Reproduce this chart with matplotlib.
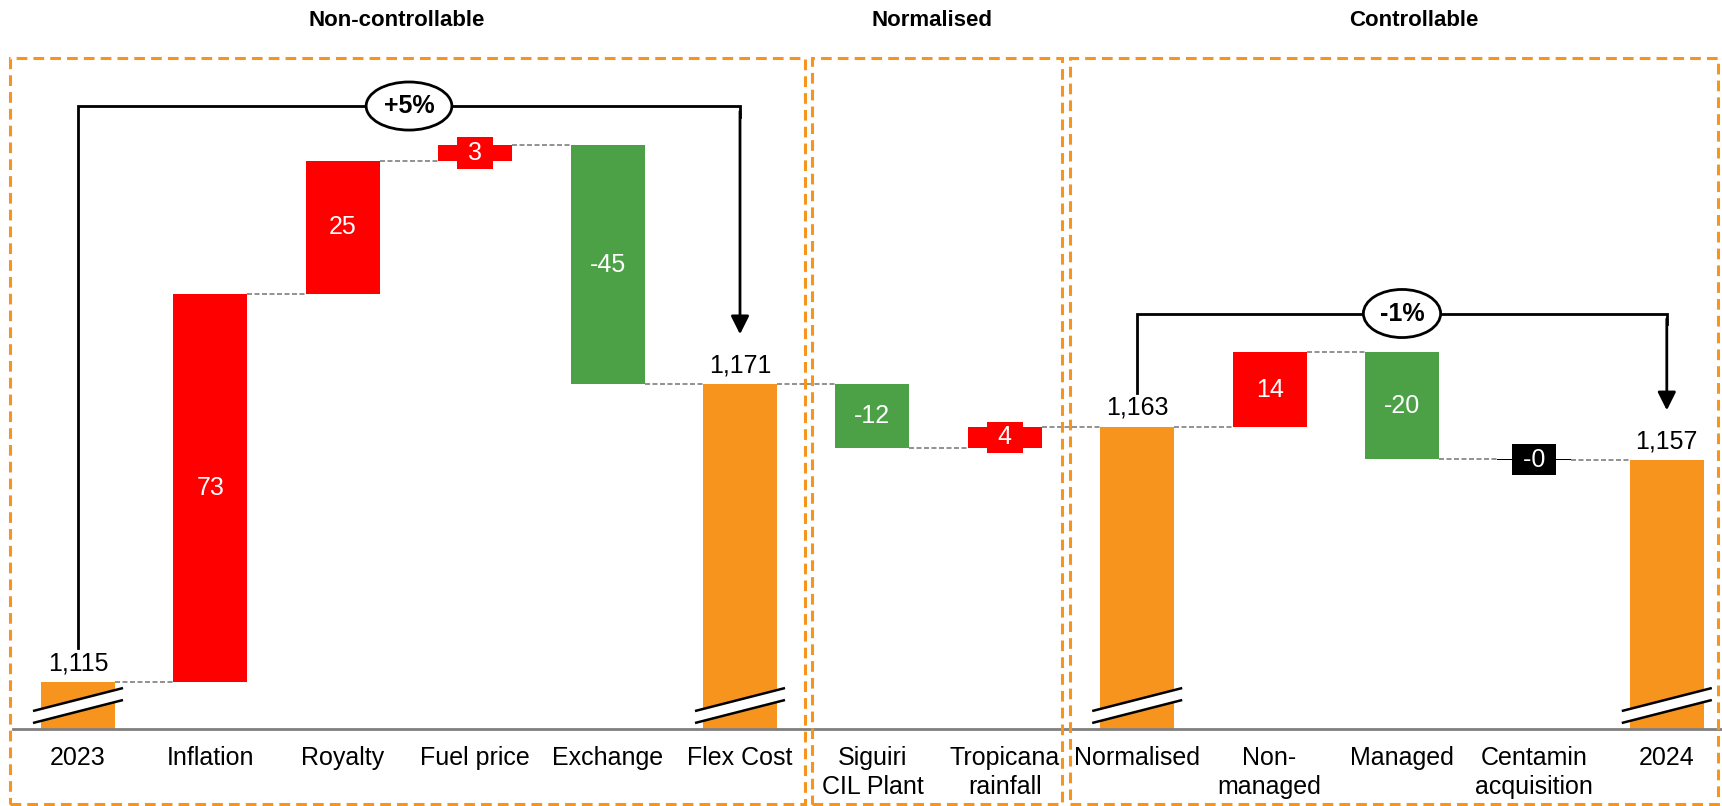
import matplotlib
matplotlib.use('Agg')
import matplotlib.pyplot as plt
from matplotlib.patches import Rectangle, Polygon
import numpy as np

plt.rcParams['font.family'] = ['Liberation Sans', 'DejaVu Sans']

# Cost bridge 2023 -> 2024
categories = ['2023', 'Inflation', 'Royalty', 'Fuel price', 'Exchange', 'Flex Cost',
              'Siguiri\nCIL Plant', 'Tropicana\nrainfall',
              'Normalised', 'Non-\nmanaged', 'Managed', 'Centamin\nacquisition', '2024']
start_value = 1115
# None = subtotal bar (running total)
changes = [73, 25, 3, -45, None, -12, 4, None, 14, -20, -0.3, None]

sections = ['Non-controllable', 'Normalised', 'Controllable']

ORANGE = '#F7941D'
RED = '#FF0000'
GREEN = '#4CA147'
GREY = '#7F7F7F'

W, H = 1722, 806
fig = plt.figure(figsize=(W / 100, H / 100), dpi=100)
ax = fig.add_axes([0, 77 / H, 1, 729 / H])

y_floor = 1106.2
px_per_unit = 5.32
ax.set_ylim(y_floor, y_floor + 729 / px_per_unit)
ax.set_xlim(-78 / 132.4, (W - 78) / 132.4)

x = np.arange(len(categories))
bw = 0.56

# work out bar extents
bottoms, tops, kinds, vals = [], [], [], []
running = start_value
bottoms.append(y_floor); tops.append(running); kinds.append('total'); vals.append(running)
for c in changes:
    if c is None:
        bottoms.append(y_floor); tops.append(running); kinds.append('total'); vals.append(running)
    else:
        lo, hi = sorted([running, running + c])
        bottoms.append(lo); tops.append(hi); kinds.append('delta'); vals.append(c)
        running += c
levels = []
running = start_value
levels.append(running)
for c in changes:
    if c is not None:
        running += c
    levels.append(running)

for i in range(len(categories)):
    if kinds[i] == 'total':
        col = ORANGE
    elif abs(vals[i]) < 1:
        col = 'black'
    else:
        col = RED if vals[i] > 0 else GREEN
    ax.bar(x[i], tops[i] - bottoms[i], bottom=bottoms[i], width=bw, color=col, zorder=2)

    if kinds[i] == 'total':
        ax.annotate(f'{round(vals[i]):,}', (x[i], tops[i]), xytext=(0, 5),
                    textcoords='offset points', ha='center', va='bottom', fontsize=18)
    else:
        mid = (tops[i] + bottoms[i]) / 2
        if abs(vals[i]) < 5:
            ax.text(x[i], mid, f' {vals[i]:.0f} ', ha='center', va='center', fontsize=18,
                    color='white', zorder=4,
                    bbox=dict(boxstyle='square,pad=0.15', fc=col, ec='none'))
        else:
            ax.text(x[i], mid, f'{vals[i]:.0f}', ha='center', va='center', fontsize=18,
                    color='white', zorder=4)

# connectors between bars
for i in range(len(categories) - 1):
    ax.plot([x[i] + bw / 2, x[i + 1] - bw / 2], [levels[i], levels[i]],
            color=GREY, lw=1.2, ls=(0, (3, 1.5)), zorder=1)

# axis break marks on the totals
for i in range(len(categories)):
    if kinds[i] != 'total':
        continue
    x0, x1 = x[i] - 0.34, x[i] + 0.34
    lo = (y_floor + 1.13, y_floor + 5.45)
    hi = (y_floor + 3.38, y_floor + 7.7)
    ax.add_patch(Polygon([(x0, lo[0]), (x1, lo[1]), (x1, hi[1]), (x0, hi[0])],
                         closed=True, fc='white', ec='none', zorder=3))
    for a, b in (lo, hi):
        ax.plot([x0, x1], [a, b], color='black', lw=1.8, zorder=3, solid_capstyle='butt')

# baseline
ax.axhline(y_floor, xmin=13 / W, color=GREY, lw=2, zorder=5, clip_on=False)


def bracket(i0, i1, text):
    top = max(levels[i0:i1 + 1]) + 7.3
    ax.plot([x[i0], x[i0], x[i1], x[i1]], [tops[i0] + 6.4, top, top, top - 2],
            color='black', lw=2, zorder=3, solid_joinstyle='miter')
    ax.annotate('', xy=(x[i1], tops[i1] + 9.4), xytext=(x[i1], top - 1),
                arrowprops=dict(arrowstyle='-|>,head_length=1.1,head_width=0.55',
                                color='black', lw=2, shrinkA=0, shrinkB=0), zorder=3)
    ax.text((x[i0] + x[i1]) / 2, top, text, ha='center', va='center', fontsize=18,
            fontweight='bold', zorder=4,
            bbox=dict(boxstyle='ellipse,pad=0.2', fc='white', ec='black', lw=2))


pct1 = (levels[5] / levels[0] - 1) * 100
pct2 = (levels[12] / levels[8] - 1) * 100
bracket(0, 5, f'{pct1:+.0f}%')
bracket(8, 12, f'{pct2:+.0f}%')

ax.set_xticks(x, categories)
ax.tick_params(axis='x', length=0, pad=12, labelsize=18)
for lab in ax.get_xticklabels():
    lab.set_linespacing(1.3)
ax.set_yticks([])
for s in ax.spines.values():
    s.set_visible(False)

# section frames and titles
frames = [(10, 805), (812, 1062), (1070, 1718)]
title_x = [397, 932, 1414]
for (l, r), name, tx in zip(frames, sections, title_x):
    fig.add_artist(Rectangle((l / W, (H - 803.5) / H), (r - l) / W, (803.5 - 58) / H,
                             transform=fig.transFigure, fill=False, ec=ORANGE,
                             lw=2.2, ls=(0, (3.5, 2)), zorder=10))
    fig.text(tx / W, 1 - 21 / H, name, ha='center', va='center', fontsize=16,
             fontweight='bold')

fig.savefig('out.png', dpi=100)
